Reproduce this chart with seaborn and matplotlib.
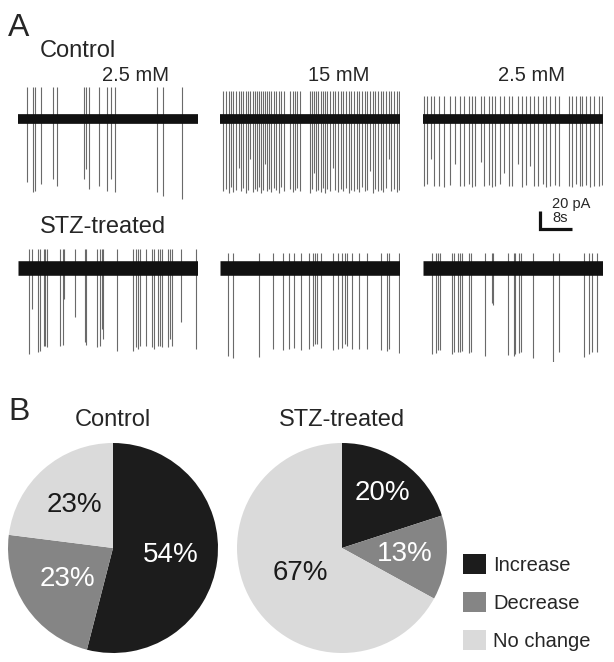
import matplotlib
matplotlib.use('Agg')
import matplotlib.pyplot as plt
import numpy as np
import seaborn as sns

sns.set_theme(style='white')
plt.rcParams['font.family'] = ['Liberation Sans', 'DejaVu Sans']

# ---------------- data ----------------
sweep_len = 45.0  # s per trace
conc_labels = ['2.5 mM', '15 mM', '2.5 mM']
group_names = ['Control', 'STZ-treated']

# spike times (s) and downward amplitudes (pA)
ctrl_a_t = [2.2, 3.8, 4.2, 5.8, 8.8, 9.8, 16.5, 17.0, 17.8, 20.3, 22.3, 23.3, 24.2, 34.8, 36.3, 40.9]
ctrl_a_d = [70, 81, 80, 72, 67, 74, 67, 56, 78, 74, 80, 67, 81, 81, 86, 89]

ctrl_b_t = [0.8, 1.5, 2.2, 2.7, 3.3, 4.0, 4.7, 5.3, 5.8, 6.5, 7.0, 7.5, 8.2, 8.7, 9.2, 9.7, 10.2,
            10.7, 11.2, 11.7, 12.2, 12.8, 13.5, 14.0, 14.7, 15.3, 16.0, 17.5, 18.2, 18.8, 19.3,
            20.0, 22.5, 23.0, 23.5, 24.0, 24.5, 25.2, 25.7, 26.3, 26.8, 27.5, 28.2, 28.8, 29.5,
            30.2, 30.8, 31.5, 32.2, 32.8, 33.5, 34.2, 34.8, 35.5, 36.2, 36.8, 37.5, 38.2, 38.8,
            39.5, 40.2, 40.8, 41.5, 42.2, 42.8, 43.5, 44.2, 44.8]
ctrl_b_d = [80, 78, 82, 76, 81, 79, 55, 80, 77, 82, 79, 45, 81, 78, 80, 76, 82, 79, 50, 80,
            78, 81, 77, 79, 82, 76, 80, 78, 81, 79, 77, 80, 82, 78, 60, 80, 79, 81, 77, 82,
            78, 80, 55, 79, 81, 78, 80, 77, 82, 79, 80, 78, 81, 76, 80, 79, 58, 82, 78, 80,
            79, 81, 77, 45, 80, 78, 81, 79]

ctrl_c_t = [0.3, 1.0, 2.0, 2.8, 4.0, 5.2, 6.8, 8.0, 9.2, 10.2, 11.5, 12.3, 13.0, 14.5, 15.3,
            16.5, 17.2, 18.0, 19.2, 20.3, 21.5, 22.3, 23.7, 24.7, 25.7, 26.7, 27.8, 28.8, 30.0,
            30.8, 31.8, 33.0, 34.0, 36.5, 37.3, 38.3, 39.2, 39.8, 40.8, 41.8, 42.8, 44.0, 44.8]
ctrl_c_d = [74, 72, 45, 75, 74, 76, 73, 50, 74, 75, 72, 76, 74, 48, 75, 73, 76, 74, 72, 60,
            75, 74, 50, 76, 73, 52, 75, 74, 72, 76, 74, 73, 75, 74, 76, 72, 75, 74, 73, 76,
            74, 75, 73]

stz_a_t = [2.8, 3.6, 4.9, 5.5, 6.4, 6.8, 7.2, 10.5, 11.2, 11.5, 14.2, 16.7, 17.0, 19.7, 20.4,
           20.9, 21.2, 24.7, 28.7, 29.4, 29.9, 30.5, 32.0, 33.4, 34.0, 34.9, 35.4, 36.0, 37.4,
           38.0, 38.5, 40.7, 44.4]
stz_a_d = [96, 46, 93, 92, 87, 87, 88, 87, 86, 34, 54, 82, 85, 88, 87, 68, 79, 92, 92, 88,
           90, 87, 87, 88, 90, 87, 87, 88, 88, 79, 87, 60, 90]

stz_b_t = [2.1, 3.3, 9.8, 13.2, 15.7, 17.2, 18.5, 20.2, 22.2, 23.2, 23.7, 24.2, 25.2, 28.3,
           29.5, 30.5, 31.3, 31.8, 33.0, 34.7, 36.8, 40.2, 41.7, 42.3, 44.8]
stz_b_d = [98, 100, 99, 90, 91, 90, 89, 91, 90, 87, 84, 84, 89, 91, 90, 89, 84, 87, 90, 90,
           90, 91, 92, 90, 94]

stz_c_t = [2.3, 3.3, 3.8, 4.3, 7.3, 7.8, 8.8, 9.3, 9.8, 11.4, 12.1, 15.6, 17.3, 17.6, 21.3,
           22.8, 23.1, 24.1, 24.6, 27.6, 32.4, 33.9, 40.3, 41.6, 42.3, 43.4]
stz_c_d = [96, 94, 91, 91, 96, 93, 93, 93, 92, 94, 93, 98, 39, 41, 97, 98, 96, 94, 93, 100,
           106, 93, 99, 96, 93, 93]

# upward overshoot of the spikes (pA), per trace
ctrl_up = [35, 31, 25]
stz_up = [21, 17, 17]

# scale bar
scale_pa = 20
scale_s = 8

# pie data (%)
categories = ['Increase', 'Decrease', 'No change']
ctrl_pct = [54, 23, 23]
stz_pct = [20, 13, 67]

pie_colors = sns.color_palette(['#1c1c1c', '#858585', '#dadada'])
pct_text_colors = ['white', 'white', '#1a1a1a']

# ---------------- layout helpers (pixels -> figure fraction) ----------------
W, H = 614, 662
fig = plt.figure(figsize=(W / 100, H / 100), dpi=100)


def px_axes(left, top, width, height):
    return fig.add_axes([left / W, 1 - (top + height) / H, width / W, height / H])


def ftext(x, y, s, **kw):
    fig.text(x / W, 1 - y / H, s, **kw)


px_per_pa = 0.9
px_per_s = 4.0


def draw_trace(left, top, height, base_px, times, depths, up, lw_base):
    ax = px_axes(left, top, sweep_len * px_per_s, height)
    ax.set_xlim(0, sweep_len)
    ax.set_ylim(-(top + height - base_px) / px_per_pa, (base_px - top) / px_per_pa)
    ax.vlines(times, -np.array(depths), up, color='#6a6a6a', lw=0.8)
    ax.plot([0, sweep_len], [0, 0], color='#111111', lw=lw_base, solid_capstyle='butt')
    ax.axis('off')
    return ax


# ---------------- panel A ----------------
ftext(8, 36, 'A', fontsize=23, va='baseline')
ftext(40, 57, group_names[0], fontsize=17, va='baseline')
ftext(40, 233, group_names[1], fontsize=17, va='baseline')

lefts = [18, 220, 423]
ctrl_traces = [(ctrl_a_t, ctrl_a_d), (ctrl_b_t, ctrl_b_d), (ctrl_c_t, ctrl_c_d)]
stz_traces = [(stz_a_t, stz_a_d), (stz_b_t, stz_b_d), (stz_c_t, stz_c_d)]
conc_x = [135, 339, 531]

for i in range(3):
    draw_trace(lefts[i], 85, 115, 119, ctrl_traces[i][0], ctrl_traces[i][1], ctrl_up[i], 7.0)
    draw_trace(lefts[i], 245, 117, 268, stz_traces[i][0], stz_traces[i][1], stz_up[i], 10.5)
    ftext(conc_x[i], 81, conc_labels[i], fontsize=14.5, ha='center', va='baseline')

# scale bar
sb = px_axes(540, 201, 40, 28)
sb.set_xlim(0, 40 / px_per_s)
sb.set_ylim(0, 28 / px_per_pa)
sb.plot([0, 0, scale_s], [scale_pa, 0, 0], color='#111111', lw=2.3, solid_capstyle='butt',
        solid_joinstyle='miter', clip_on=False)
sb.axis('off')
ftext(552, 208, f'{scale_pa} pA', fontsize=10.5, va='baseline')
ftext(552, 222, f'{scale_s}s', fontsize=10.5, va='baseline')

# ---------------- panel B ----------------
ftext(8, 420, 'B', fontsize=23, va='baseline')


def draw_pie(left, values, title, radii):
    ax = px_axes(left, 443, 210, 210)
    wedges, _ = ax.pie(values, colors=pie_colors, startangle=90, counterclock=False,
                       radius=1, wedgeprops=dict(linewidth=0))
    for w, v, r, c in zip(wedges, values, radii, pct_text_colors):
        mid = np.deg2rad((w.theta1 + w.theta2) / 2)
        ax.text(r * np.cos(mid), r * np.sin(mid), f'{v}%', ha='center', va='center',
                fontsize=20, color=c)
    ax.set_xlim(-1, 1)
    ax.set_ylim(-1, 1)
    ax.set_title(title, fontsize=17, pad=12)
    return ax, wedges


ax_c, _ = draw_pie(8, ctrl_pct, group_names[0], [0.55, 0.53, 0.55])
ax_s, wedges = draw_pie(237, stz_pct, group_names[1], [0.65, 0.6, 0.46])

fig.legend(wedges, categories, loc='upper left', bbox_to_anchor=(463 / W, 1 - 554 / H),
           frameon=False, fontsize=14.5, handlelength=1.15, handleheight=1.15,
           labelspacing=0.85, handletextpad=0.35, borderpad=0, borderaxespad=0)

fig.savefig('out.png', dpi=100)
